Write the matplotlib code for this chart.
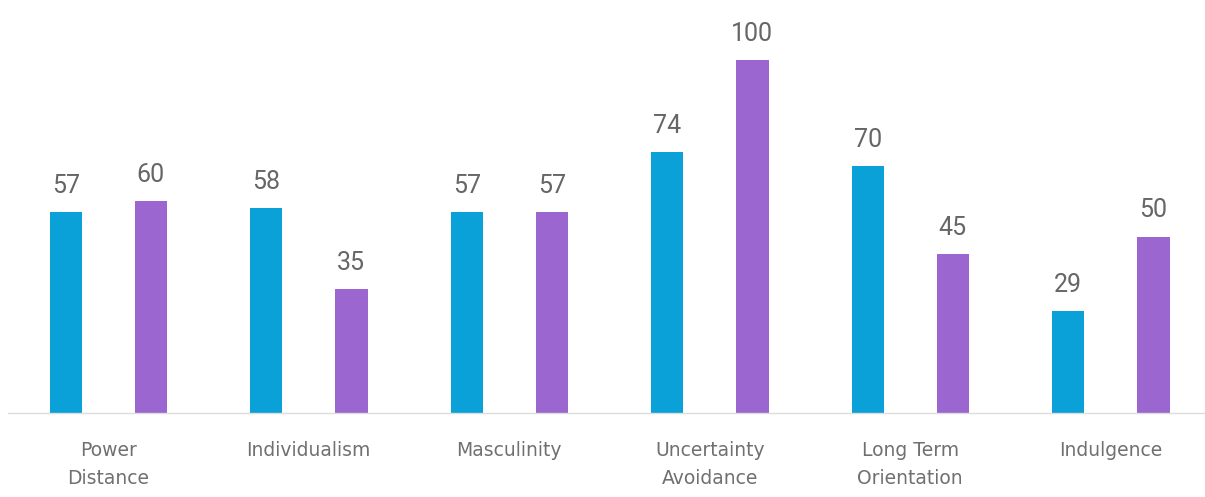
import numpy as np
from matplotlib import pyplot as plt

categories = ['Power\nDistance', 'Individualism', 'Masculinity',
              'Uncertainty\nAvoidance', 'Long Term\nOrientation', 'Indulgence']
first = [57, 58, 57, 74, 70, 29]
second = [60, 35, 57, 100, 45, 50]

blue = '#0aa0d8'
purple = '#9b66d0'
grey = '#666666'

fig = plt.figure(figsize=(12.05, 4.97), dpi=100)
ax = fig.add_axes([8/1205, 84/497, 1 - 8/1205, 413/497])

x = np.arange(len(categories))
off = 0.212
w = 0.162
b1 = ax.bar(x - off, first, w, color=blue)
b2 = ax.bar(x + off, second, w, color=purple)

# value above each bar
for bars, vals in ((b1, first), (b2, second)):
    for bar, v in zip(bars, vals):
        ax.text(bar.get_x() + bar.get_width()/2, v + 4, str(v),
                ha='center', va='bottom', fontsize=18, color=grey,
                family='Roboto')

ax.set_xlim(-0.5, 5.47)
ax.set_ylim(0, 117)
ax.set_yticks([])
ax.set_xticks(x)
ax.set_xticklabels(categories, fontsize=13.5, color='#707070', family='DejaVu Sans',
                   linespacing=1.6, va='top')
ax.tick_params(axis='x', length=0, pad=20)
for s in ('top', 'right', 'left'):
    ax.spines[s].set_visible(False)
ax.spines['bottom'].set_color('#dddddd')
ax.spines['bottom'].set_linewidth(1)

fig.savefig('out.png', dpi=100)
